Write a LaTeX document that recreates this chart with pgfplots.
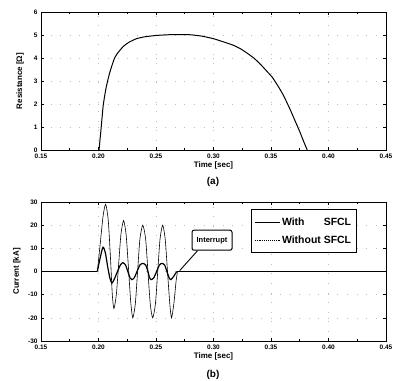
\documentclass[border=0pt]{standalone}
\usepackage{pgfplots}
\pgfplotsset{compat=1.18}
\usepackage{fontspec}
\setmainfont{Liberation Sans}
\begin{document}
\begin{tikzpicture}
\path[use as bounding box] (0bp,0bp) rectangle (396bp,-381bp);
\pgfplotsset{
  myax/.style={
    scale only axis, width=345bp,
    xmin=0.15, xmax=0.45,
    xtick={0.15,0.20,0.25,0.30,0.35,0.40,0.45},
    minor x tick num=1,
    xticklabel style={/pgf/number format/.cd, fixed, fixed zerofill, precision=2},
    /pgf/number format/assume math mode=true,
    tick label style={font=\fontsize{6.5}{7}\selectfont\bfseries},
    label style={font=\fontsize{8}{9}\selectfont\bfseries},
    tick align=inside, major tick length=3bp, minor tick length=1.8bp,
    tick style={black, line width=0.6pt},
    axis line style={line width=1pt},
    grid=major,
    major grid style={gray!50, line width=0.4pt, dash pattern=on 0.6pt off 9pt},
    xlabel={Time [sec]},
    xlabel style={at={(axis description cs:0.5,0)}, yshift=-8bp, anchor=north},
  }
}
% (a) resistance
\begin{axis}[myax, at={(41bp,-150bp)}, anchor=south west, height=138bp,
  ymin=0, ymax=6, ytick={0,1,2,3,4,5,6},
  ylabel={Resistance [Ω]},
  ylabel style={at={(axis description cs:-0.061,0.5)}, anchor=center},
]
\addplot[black, line width=1pt] coordinates {(0.15,0) (0.2005,0)};
\addplot[black, line width=1pt, smooth, tension=0.3] coordinates {
(0.2005,0) (0.2012,0.4) (0.202,0.8) (0.203,1.35) (0.204,1.9) (0.2055,2.4)
(0.207,2.8) (0.2085,3.12) (0.21,3.4) (0.212,3.72) (0.214,4.0) (0.216,4.17)
(0.218,4.3) (0.2215,4.5) (0.2245,4.62) (0.227,4.7) (0.233,4.84) (0.24,4.92)
(0.25,4.98) (0.26,5.01) (0.27,5.02) (0.28,5.01) (0.29,4.95) (0.30,4.84)
(0.31,4.68) (0.317,4.56) (0.3235,4.4) (0.329,4.22) (0.335,4.0) (0.34,3.77)
(0.345,3.5) (0.351,3.17) (0.3555,2.83) (0.36,2.45) (0.3635,2.1) (0.367,1.72)
(0.371,1.26) (0.375,0.8) (0.378,0.42) (0.3815,0)};
\addplot[black, line width=1pt] coordinates {(0.3815,0) (0.45,0)};
\end{axis}
% (b) current
\begin{axis}[myax, at={(41bp,-341bp)}, anchor=south west, height=139bp,
  ymin=-30, ymax=30, ytick={-30,-20,-10,0,10,20,30},
  ylabel={Current [kA]},
  ylabel style={at={(axis description cs:-0.07,0.5)}, anchor=center},
  legend style={at={(rel axis cs:0.609,0.949)}, anchor=north west, draw=black,
    line width=0.9pt, font=\fontsize{10.5}{12}\selectfont\bfseries,
    inner xsep=3bp, inner ysep=6bp, row sep=5bp},
  legend cell align=left,
  legend image code/.code={\draw[#1, line width=0.5pt] (0,0) -- (25bp,0);},
]
\addplot[black, line width=1.2pt, smooth, tension=0.4] coordinates {
(0.199,0) (0.2015,6) (0.2039,10.5) (0.206,8) (0.208,2) (0.21,-3)
(0.2117,-5) (0.214,-3) (0.2165,0) (0.219,2.8) (0.2212,3.8) (0.2235,2.8)
(0.2255,0) (0.2275,-2.8) (0.229,-3.5) (0.231,-2.8) (0.2335,0) (0.236,2.8)
(0.2385,3.5) (0.241,2.8) (0.243,0) (0.2445,-2.8) (0.2457,-3.5) (0.248,-2.8)
(0.2505,0) (0.253,2.8) (0.2552,3.5) (0.2575,2.8) (0.2595,0) (0.2615,-2.8)
(0.263,-3.5) (0.2655,-2) (0.268,0)};
\addlegendentry{With\hphantom{out} SFCL}
\addplot[black, line width=1.2pt, forget plot] coordinates {(0.15,0) (0.199,0)};
\addplot[black, line width=1.2pt, forget plot] coordinates {(0.268,0) (0.45,0)};
\addplot[black, line width=0.6pt, smooth, tension=0.4, forget plot] coordinates {
(0.199,0) (0.2015,12) (0.204,24) (0.2062,29) (0.2085,22) (0.2105,5) (0.212,-10)
(0.2134,-16) (0.2155,-10) (0.2175,3) (0.2195,16) (0.2218,22) (0.224,16)
(0.226,2) (0.228,-13) (0.2298,-20) (0.232,-14) (0.234,0) (0.236,14)
(0.2385,20) (0.241,14) (0.243,0) (0.245,-14) (0.2471,-20) (0.2495,-14)
(0.2515,0) (0.2535,14) (0.2558,20) (0.258,14) (0.26,0) (0.262,-14)
(0.2635,-20) (0.2655,-14) (0.2675,-4) (0.2687,0)};
\addlegendimage{black, densely dotted}
\addlegendentry{Without SFCL}
\node[draw, line width=1pt, rounded corners=2pt, fill=white,
  font=\fontsize{7.5}{8}\selectfont\bfseries, minimum width=40bp,
  minimum height=20bp, inner sep=1bp] (intr) at (axis cs:0.2987,13.5) {Interrupt};
\draw[line width=0.9pt] ([xshift=6bp]intr.south west) -- (axis cs:0.2706,0.4);
\end{axis}
\node[font=\fontsize{10}{11}\selectfont\bfseries] at (213bp,-182bp) {(a)};
\node[font=\fontsize{10}{11}\selectfont\bfseries] at (213bp,-375bp) {(b)};
\end{tikzpicture}
\end{document}
